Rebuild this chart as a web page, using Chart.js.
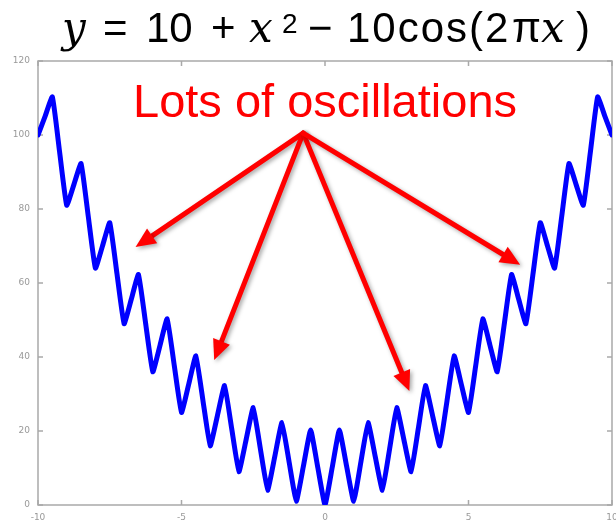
<!DOCTYPE html>
<html>
<head>
<meta charset="utf-8">
<title>Rastrigin 1D</title>
<script src="https://cdn.jsdelivr.net/npm/chart.js@4/dist/chart.umd.min.js"></script>
<style>
  html, body { margin: 0; padding: 0; background: #fff; }
  #wrap { position: relative; width: 616px; height: 522px; overflow: hidden; }
  #c { position: absolute; left: 0; top: 0; }
  .eq { position: absolute; top: 7px; font: 42px/42px "Liberation Sans", Arial, sans-serif; color: #000; white-space: nowrap; }
  .eq.it { font-family: "DejaVu Serif", "Liberation Serif", serif; font-style: italic; }
  .eq.sup { font-size: 28px; line-height: 28px; top: 10px; }
  .note { position: absolute; left: 133px; top: 77px; font: 47px/47px "Liberation Sans", Arial, sans-serif; color: #ff0000; white-space: nowrap; }
</style>
</head>
<body>
<div id="wrap">
  <canvas id="c" width="616" height="522"></canvas>
  <span class="eq it" style="left:62px">y</span>
  <span class="eq" style="left:103px">=</span>
  <span class="eq" style="left:146px">10</span>
  <span class="eq" style="left:211px">+</span>
  <span class="eq it" style="left:249px">x</span>
  <span class="eq sup" style="left:282px">2</span>
  <span class="eq" style="left:308px">−</span>
  <span class="eq" style="left:347px; letter-spacing:2px">10cos(2</span>
  <span class="eq" style="left:512px">π</span>
  <span class="eq it" style="left:541px">x</span>
  <span class="eq" style="left:576px">)</span>
  <div class="note">Lots of oscillations</div>
</div>
<script>
// f(x) sampled every 0.25 on [-10, 10]
var xs = [
  -10, -9.75, -9.5, -9.25, -9, -8.75, -8.5, -8.25, -8, -7.75, -7.5, -7.25,
  -7, -6.75, -6.5, -6.25, -6, -5.75, -5.5, -5.25, -5, -4.75, -4.5, -4.25,
  -4, -3.75, -3.5, -3.25, -3, -2.75, -2.5, -2.25, -2, -1.75, -1.5, -1.25,
  -1, -0.75, -0.5, -0.25, 0, 0.25, 0.5, 0.75, 1, 1.25, 1.5, 1.75,
  2, 2.25, 2.5, 2.75, 3, 3.25, 3.5, 3.75, 4, 4.25, 4.5, 4.75,
  5, 5.25, 5.5, 5.75, 6, 6.25, 6.5, 6.75, 7, 7.25, 7.5, 7.75,
  8, 8.25, 8.5, 8.75, 9, 9.25, 9.5, 9.75, 10
];
var ys = [
  100, 105.1, 110.3, 95.6, 81, 86.6, 92.3, 78.1, 64, 70.1, 76.3, 62.6,
  49, 55.6, 62.3, 49.1, 36, 43.1, 50.3, 37.6, 25, 32.6, 40.3, 28.1,
  16, 24.1, 32.3, 20.6, 9, 17.6, 26.3, 15.1, 4, 13.1, 22.3, 11.6,
  1, 10.6, 20.3, 10.1, 0, 10.1, 20.3, 10.6, 1, 11.6, 22.3, 13.1,
  4, 15.1, 26.3, 17.6, 9, 20.6, 32.3, 24.1, 16, 28.1, 40.3, 32.6,
  25, 37.6, 50.3, 43.1, 36, 49.1, 62.3, 55.6, 49, 62.6, 76.3, 70.1,
  64, 78.1, 92.3, 86.6, 81, 95.6, 110.3, 105.1, 100
];
var xTicks = [-10, -5, 0, 5, 10];
var yTicks = [0, 20, 40, 60, 80, 100, 120];

// where the callout arrows start and end, in data units
var arrowFrom = [-0.76, 100.5];
var arrowTo = [[-6.6, 69.7], [-3.86, 39.2], [2.94, 30.8], [6.8, 64.9]];

var points = xs.map(function (x, i) { return { x: x, y: ys[i] }; });

// box round the plot with short inward ticks on every side
var frame = {
  id: "frame",
  beforeDatasetsDraw: function (chart) {
    var ctx = chart.ctx, a = chart.chartArea;
    var sx = chart.scales.x, sy = chart.scales.y;
    ctx.save();
    ctx.strokeStyle = "#a9a9a9";
    ctx.lineWidth = 1.5;
    ctx.strokeRect(a.left, a.top, a.right - a.left, a.bottom - a.top);
    ctx.beginPath();
    xTicks.forEach(function (v) {
      var p = sx.getPixelForValue(v);
      ctx.moveTo(p, a.bottom); ctx.lineTo(p, a.bottom - 5);
      ctx.moveTo(p, a.top); ctx.lineTo(p, a.top + 5);
    });
    yTicks.forEach(function (v) {
      var p = sy.getPixelForValue(v);
      ctx.moveTo(a.left, p); ctx.lineTo(a.left + 5, p);
      ctx.moveTo(a.right, p); ctx.lineTo(a.right - 5, p);
    });
    ctx.stroke();
    ctx.restore();
  }
};

// red arrows fanning out from under the note
var arrows = {
  id: "arrows",
  afterDatasetsDraw: function (chart) {
    var ctx = chart.ctx;
    var sx = chart.scales.x, sy = chart.scales.y;
    var x0 = sx.getPixelForValue(arrowFrom[0]), y0 = sy.getPixelForValue(arrowFrom[1]);
    ctx.save();
    ctx.strokeStyle = "#ff0000";
    ctx.fillStyle = "#ff0000";
    ctx.lineWidth = 5;
    ctx.lineCap = "round";
    ctx.shadowColor = "rgba(0,0,0,0.35)";
    ctx.shadowBlur = 4;
    ctx.shadowOffsetX = 2;
    ctx.shadowOffsetY = 2;
    arrowTo.forEach(function (t) {
      var x1 = sx.getPixelForValue(t[0]), y1 = sy.getPixelForValue(t[1]);
      var ang = Math.atan2(y1 - y0, x1 - x0);
      var len = 20, half = 9;
      var bx = x1 - len * Math.cos(ang), by = y1 - len * Math.sin(ang);
      ctx.beginPath();
      ctx.moveTo(x0, y0);
      ctx.lineTo(bx, by);
      ctx.stroke();
      ctx.beginPath();
      ctx.moveTo(x1, y1);
      ctx.lineTo(bx + half * Math.sin(ang), by - half * Math.cos(ang));
      ctx.lineTo(bx - half * Math.sin(ang), by + half * Math.cos(ang));
      ctx.closePath();
      ctx.fill();
    });
    ctx.restore();
  }
};

var tickFont = { family: "DejaVu Sans", size: 9 };

new Chart(document.getElementById("c"), {
  type: "line",
  data: {
    datasets: [{
      data: points,
      borderColor: "#0000ff",
      borderWidth: 5,
      pointRadius: 0,
      tension: 0.12,
      borderJoinStyle: "round",
      borderCapStyle: "round",
      fill: false
    }]
  },
  options: {
    responsive: false,
    devicePixelRatio: 1,
    animation: false,
    layout: { padding: { top: 61, right: 4, left: 0, bottom: 0 } },
    plugins: { legend: { display: false }, tooltip: { enabled: false } },
    scales: {
      x: {
        type: "linear",
        min: -10,
        max: 10,
        grid: { display: false, drawTicks: false },
        border: { display: false },
        ticks: { stepSize: 5, color: "#999", font: tickFont, padding: 7, maxRotation: 0, autoSkip: false },
        afterFit: function (s) { s.height = 17; s.paddingLeft = 0; s.paddingRight = 0; }
      },
      y: {
        min: 0,
        max: 120,
        grid: { display: false, drawTicks: false },
        border: { display: false },
        ticks: { stepSize: 20, color: "#999", font: tickFont, padding: 8 },
        afterFit: function (s) { s.width = 38; s.paddingTop = 0; s.paddingBottom = 0; }
      }
    }
  },
  plugins: [frame, arrows]
});
</script>
</body>
</html>
